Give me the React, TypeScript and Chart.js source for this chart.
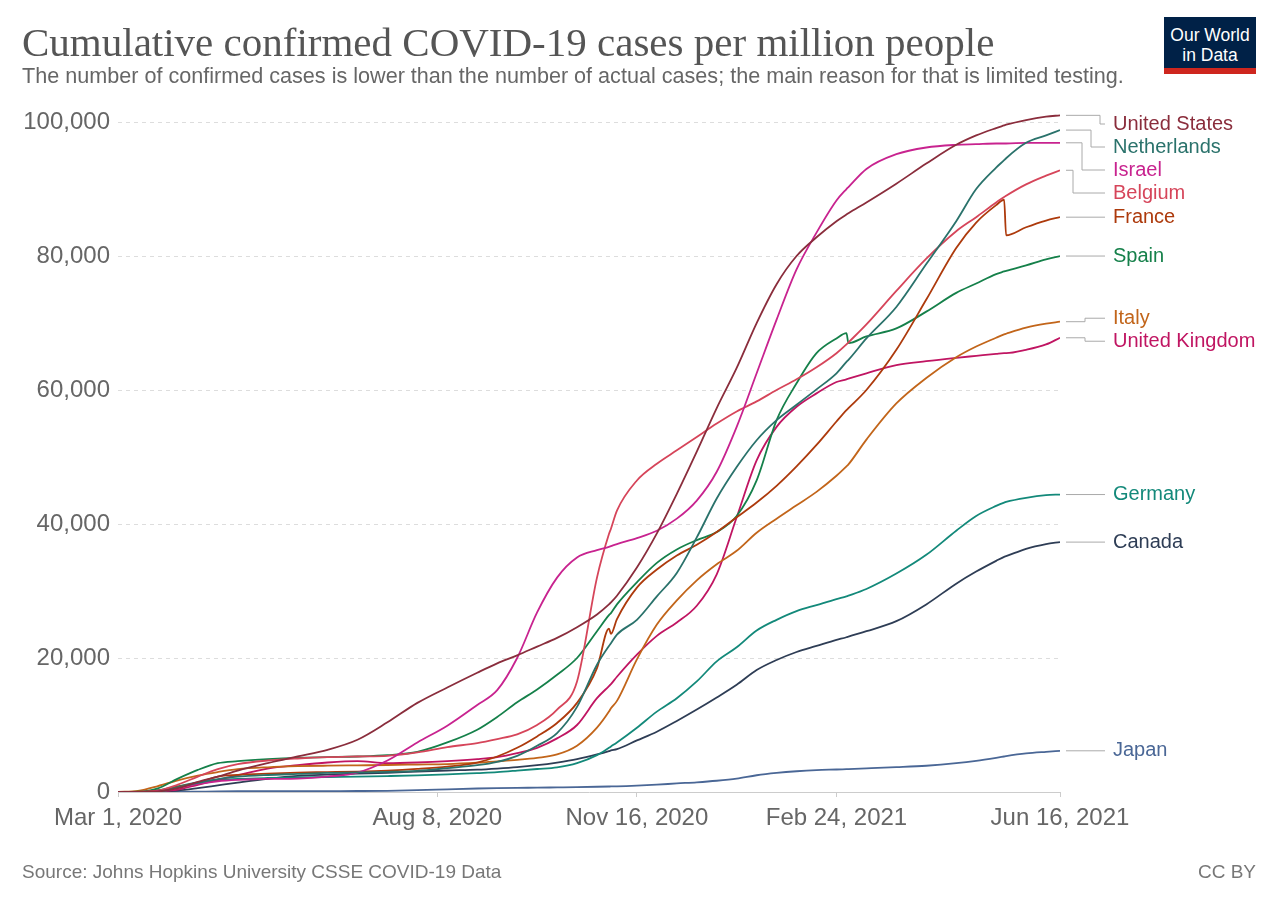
import React, { useEffect, useRef } from "react";
import { Chart, registerables } from "chart.js";

Chart.register(...registerables);

// Days since Mar 1, 2020
const DAYS = [
  0, 10, 20, 30, 40, 50, 60, 75,
  90, 105, 120, 135, 150, 165, 180, 190,
  200, 210, 220, 230, 240, 246, 247, 250,
  260, 270, 280, 290, 300, 310, 320, 330,
  340, 350, 360, 365, 366, 375, 390, 405,
  420, 430, 440, 444, 445, 455, 465, 472,
];

const X_TICK_DAYS = [0, 160, 260, 360, 472];
const X_TICK_LABELS = ["Mar 1, 2020", "Aug 8, 2020", "Nov 16, 2020", "Feb 24, 2021", "Jun 16, 2021"];
const Y_TICKS = [0, 20000, 40000, 60000, 80000, 100000];

const COUNTRIES = [
  "United States", "Netherlands", "Israel", "Belgium", "France", "Spain",
  "Italy", "United Kingdom", "Germany", "Canada", "Japan",
];
const COLORS = [
  "#8a2d3c", "#2a726b", "#c8238f", "#d6455a", "#ad3a0c", "#15804a",
  "#c2651a", "#c01562", "#13897a", "#2e3d55", "#4a6796",
];

// Confirmed cases per million, in thousands
const UNITED_STATES = [
  0, 0.003, 0.08, 0.57, 1.5, 2.3, 3.2, 4.3,
  5.3, 6.3, 7.8, 10.4, 13.3, 15.6, 17.8, 19.2,
  20.4, 21.7, 23.0, 24.6, 26.5, 28.0, 28.3, 29.3,
  33.5, 38.6, 44.5, 50.8, 57.3, 63.3, 70.0, 75.8,
  80.0, 82.8, 85.2, 86.2, 86.4, 88.0, 90.8, 93.8,
  96.6, 98.0, 99.1, 99.5, 99.6, 100.3, 100.8, 101.0,
];
const NETHERLANDS = [
  0, 0.002, 0.02, 0.73, 1.35, 1.93, 2.28, 2.54,
  2.7, 2.86, 2.92, 3.0, 3.15, 3.56, 4.0, 4.5,
  5.4, 6.9, 8.8, 12.7, 19.0, 21.8, 22.2, 23.5,
  25.7, 29.2, 32.7, 38.0, 43.8, 48.5, 52.5, 55.5,
  57.8, 60.1, 62.5, 64.2, 64.5, 67.7, 72.4, 78.8,
  85.2, 90.0, 93.2, 94.3, 94.6, 96.9, 98.0, 98.8,
];
const ISRAEL = [
  0, 0.01, 0.08, 0.6, 1.2, 1.6, 1.8, 1.95,
  2.0, 2.3, 2.9, 4.7, 7.4, 9.9, 13.0, 15.2,
  20.0, 26.8, 32.0, 35.0, 36.1, 36.6, 36.7, 37.0,
  37.9, 39.0, 40.8, 43.5, 47.8, 54.5, 62.5, 70.5,
  78.0, 83.5, 88.3, 90.0, 90.3, 93.0, 95.2, 96.2,
  96.6, 96.7, 96.8, 96.8, 96.8, 96.9, 96.9, 96.9,
];
const BELGIUM = [
  0, 0.03, 0.2, 1.1, 2.3, 3.4, 4.15, 4.7,
  5.0, 5.2, 5.3, 5.4, 5.9, 6.7, 7.3, 7.9,
  8.6, 10.0, 12.3, 16.5, 32.0, 38.5, 39.3, 42.0,
  46.5, 49.0, 51.0, 53.0, 55.0, 56.8, 58.3, 60.0,
  61.6, 63.4, 65.5, 66.8, 67.1, 69.8, 74.8, 79.6,
  83.7, 85.8, 88.0, 88.8, 89.0, 90.7, 92.0, 92.8,
];
const FRANCE = [
  0, 0.03, 0.2, 0.8, 1.4, 2.3, 2.55, 2.75,
  2.9, 2.97, 3.05, 3.2, 3.45, 3.8, 4.4, 5.3,
  6.6, 8.3, 10.3, 13.3, 18.5, 24.4, 23.6, 25.8,
  30.5, 33.2, 35.3, 36.9, 38.8, 41.0, 43.2, 45.7,
  48.6, 51.8, 55.3, 57.0, 57.3, 60.0, 66.0, 73.5,
  81.2, 85.0, 87.6, 88.4, 83.1, 84.3, 85.3, 85.8,
];
const SPAIN = [
  0, 0.05, 0.55, 2.0, 3.3, 4.3, 4.6, 4.9,
  5.1, 5.2, 5.3, 5.5, 6.0, 7.4, 9.3, 11.2,
  13.4, 15.3, 17.5, 20.0, 24.0, 26.4, 26.7, 28.0,
  31.3, 34.2, 36.2, 37.6, 38.8, 41.2, 46.5, 55.5,
  61.0, 65.5, 67.7, 68.5, 67.0, 68.0, 69.2, 71.7,
  74.5, 75.9, 77.3, 77.7, 77.8, 78.6, 79.5, 80.0,
];
const ITALY = [
  0, 0.17, 0.88, 1.75, 2.45, 2.98, 3.4, 3.69,
  3.85, 3.93, 3.98, 4.03, 4.1, 4.17, 4.38, 4.58,
  4.8, 5.1, 5.6, 6.9, 9.6, 12.0, 12.5, 13.6,
  19.8, 25.0, 28.6, 31.6, 34.0, 36.0, 38.7, 40.8,
  42.8, 44.8, 47.2, 48.6, 48.9, 52.6, 58.0, 61.8,
  64.9, 66.5, 67.8, 68.3, 68.4, 69.3, 69.9, 70.2,
];
const UNITED_KINGDOM = [
  0, 0.006, 0.08, 0.37, 1.08, 1.8, 2.5, 3.5,
  4.0, 4.4, 4.6, 4.3, 4.4, 4.6, 4.9, 5.2,
  5.8, 6.6, 8.0, 10.0, 14.0, 15.8, 16.1, 17.2,
  20.5, 23.3, 25.3, 27.8, 32.5, 41.0, 49.5, 54.5,
  57.5, 59.5, 61.2, 61.6, 61.7, 62.5, 63.7, 64.3,
  64.8, 65.1, 65.4, 65.5, 65.5, 66.0, 66.8, 67.8,
];
const GERMANY = [
  0, 0.02, 0.26, 0.85, 1.42, 1.76, 1.95, 2.09,
  2.17, 2.24, 2.3, 2.38, 2.48, 2.63, 2.83, 2.97,
  3.19, 3.43, 3.68, 4.3, 5.5, 6.6, 6.8, 7.4,
  9.6, 12.0, 14.0, 16.5, 19.5, 21.6, 24.1, 25.7,
  27.0, 27.9, 28.8, 29.2, 29.3, 30.3, 32.6, 35.4,
  39.0, 41.2, 42.7, 43.2, 43.3, 43.9, 44.3, 44.4,
];
const CANADA = [
  0, 0.003, 0.03, 0.22, 0.58, 0.99, 1.4, 1.97,
  2.4, 2.6, 2.74, 2.87, 3.06, 3.21, 3.33, 3.49,
  3.7, 4.0, 4.4, 4.9, 5.6, 6.1, 6.2, 6.4,
  7.7, 9.0, 10.6, 12.3, 14.1, 16.0, 18.2, 19.7,
  20.9, 21.8, 22.7, 23.1, 23.2, 24.0, 25.5, 28.0,
  31.1, 32.9, 34.5, 35.1, 35.2, 36.3, 37.0, 37.3,
];
const JAPAN = [
  0.002, 0.005, 0.008, 0.017, 0.05, 0.085, 0.112, 0.129,
  0.133, 0.138, 0.147, 0.176, 0.265, 0.395, 0.52, 0.58,
  0.62, 0.65, 0.69, 0.73, 0.78, 0.82, 0.83, 0.84,
  0.94, 1.09, 1.28, 1.45, 1.68, 2.0, 2.5, 2.85,
  3.1, 3.27, 3.36, 3.41, 3.42, 3.52, 3.7, 3.92,
  4.3, 4.65, 5.1, 5.3, 5.35, 5.75, 6.0, 6.15,
];

const SERIES = [
  UNITED_STATES, NETHERLANDS, ISRAEL, BELGIUM, FRANCE, SPAIN,
  ITALY, UNITED_KINGDOM, GERMANY, CANADA, JAPAN,
];

const SANS = '"Liberation Sans", Arial, Helvetica, sans-serif';

const endLabels = {
  id: "endLabels",
  afterDatasetsDraw(chart: any) {
    const { ctx, chartArea, scales } = chart;
    const ys = scales.y;
    const items = chart.data.datasets.map((ds: any) => {
      const last = ds.data[ds.data.length - 1].y;
      return { label: ds.label, color: ds.borderColor, target: ys.getPixelForValue(last), pos: 0 };
    });
    items.sort((a: any, b: any) => a.target - b.target);
    const GAP = 23;
    const minY = chartArea.top + 10;
    type Cl = { members: any[]; start: number };
    const layout = (c: Cl) => {
      const n = c.members.length;
      const mean = c.members.reduce((s: number, m: any) => s + m.target, 0) / n;
      c.start = Math.max(minY, mean - ((n - 1) * GAP) / 2);
    };
    let clusters: Cl[] = items.map((it: any) => ({ members: [it], start: it.target }));
    clusters.forEach(layout);
    let changed = true;
    while (changed) {
      changed = false;
      for (let k = 0; k < clusters.length - 1; k++) {
        const a = clusters[k];
        const b = clusters[k + 1];
        const aEnd = a.start + (a.members.length - 1) * GAP;
        if (b.start - aEnd < GAP - 0.01) {
          const merged: Cl = { members: a.members.concat(b.members), start: 0 };
          layout(merged);
          clusters.splice(k, 2, merged);
          changed = true;
          break;
        }
      }
    }
    const x0 = chartArea.right + 6;
    const x3 = chartArea.right + 45;
    ctx.save();
    ctx.font = `20px ${SANS}`;
    ctx.textBaseline = "middle";
    ctx.textAlign = "left";
    clusters.forEach((c) => {
      c.members.forEach((m: any, j: number) => (m.pos = c.start + j * GAP));
      const downs = c.members.filter((m: any) => m.pos > m.target + 0.5);
      const ups = c.members.filter((m: any) => m.pos < m.target - 0.5).reverse();
      const elbow = new Map<any, number>();
      [downs, ups].forEach((arr) => {
        arr.forEach((m: any, d: number) => {
          const n = arr.length;
          const ex = n === 1 ? x0 + 19 : x0 + 7 + ((n - 1 - d) / (n - 1)) * 27;
          elbow.set(m, ex);
        });
      });
      c.members.forEach((m: any) => {
        ctx.strokeStyle = "#aaaaaa";
        ctx.lineWidth = 1;
        ctx.beginPath();
        const ex = elbow.get(m);
        if (ex === undefined) {
          ctx.moveTo(x0, m.pos);
          ctx.lineTo(x3, m.pos);
        } else {
          ctx.moveTo(x0, m.target);
          ctx.lineTo(ex, m.target);
          ctx.lineTo(ex, m.pos);
          ctx.lineTo(x3, m.pos);
        }
        ctx.stroke();
        ctx.fillStyle = m.color;
        ctx.fillText(m.label, x3 + 8, m.pos);
      });
    });
    ctx.restore();
  },
};

export default function App() {
  const ref = useRef<HTMLCanvasElement>(null);
  useEffect(() => {
    document.body.style.margin = "0";
    const canvas = ref.current;
    if (!canvas) return;
    const chart = new Chart(canvas, {
      type: "line",
      data: {
        datasets: COUNTRIES.map((name, i) => ({
          label: name,
          data: DAYS.map((d, j) => ({ x: d, y: SERIES[i][j] * 1000 })),
          borderColor: COLORS[i],
          backgroundColor: COLORS[i],
          borderWidth: 1.8,
          pointRadius: 0,
          pointHoverRadius: 0,
          fill: false,
          cubicInterpolationMode: "monotone" as const,
        })),
      },
      options: {
        animation: false,
        responsive: false,
        maintainAspectRatio: false,
        layout: { padding: { top: 114, right: 220, bottom: 72, left: 0 } },
        plugins: { legend: { display: false }, tooltip: { enabled: false }, title: { display: false } },
        scales: {
          x: {
            type: "linear",
            min: 0,
            max: 472,
            afterBuildTicks: (s: any) => {
              s.ticks = X_TICK_DAYS.map((v) => ({ value: v }));
            },
            afterFit: (s: any) => {
              s.height = 40;
            },
            ticks: {
              autoSkip: false,
              maxRotation: 0,
              padding: 7,
              color: "#666666",
              font: { family: SANS, size: 24 },
              callback: (v: any) => {
                const i = X_TICK_DAYS.indexOf(Number(v));
                return i >= 0 ? X_TICK_LABELS[i] : "";
              },
            },
            grid: { drawOnChartArea: false, drawTicks: true, tickLength: 5, tickColor: "#cccccc" },
            border: { display: true, color: "#cccccc", width: 1 },
          },
          y: {
            type: "linear",
            min: 0,
            max: 101200,
            afterBuildTicks: (s: any) => {
              s.ticks = Y_TICKS.map((v) => ({ value: v }));
            },
            afterFit: (s: any) => {
              s.width = 118;
            },
            ticks: {
              padding: 8,
              color: "#666666",
              font: { family: SANS, size: 24 },
              callback: (v: any) => Number(v).toLocaleString("en-US"),
            },
            grid: {
              drawTicks: false,
              color: (c: any) => (c.tick && c.tick.value === 0 ? "rgba(0,0,0,0)" : "#dddddd"),
              lineWidth: 1,
            },
            border: { display: false, dash: [4, 4] },
          },
        },
      },
      plugins: [endLabels],
    });
    return () => chart.destroy();
  }, []);

  return (
    <div style={{ position: "relative", width: 1280, height: 904, background: "#fff", overflow: "hidden" }}>
      <canvas ref={ref} width={1280} height={904} style={{ position: "absolute", left: 0, top: 0, width: 1280, height: 904 }} />
      <div
        style={{
          position: "absolute", left: 22, top: 22, fontFamily: '"Liberation Serif", "Times New Roman", serif',
          fontSize: 41, lineHeight: "41px", color: "#555555", whiteSpace: "nowrap",
        }}
      >
        Cumulative confirmed COVID-19 cases per million people
      </div>
      <div
        style={{
          position: "absolute", left: 22, top: 65, fontFamily: SANS, fontSize: 21.6, lineHeight: "21.6px",
          color: "#666666", whiteSpace: "nowrap",
        }}
      >
        The number of confirmed cases is lower than the number of actual cases; the main reason for that is limited testing.
      </div>
      <div
        style={{
          position: "absolute", left: 1164, top: 17, width: 92, height: 57, background: "#002147",
          color: "#fff", fontFamily: SANS, fontSize: 17.5, lineHeight: "20px", textAlign: "center",
          boxSizing: "border-box", paddingTop: 8,
        }}
      >
        <div>Our World</div>
        <div>in Data</div>
        <div style={{ position: "absolute", left: 0, bottom: 0, width: 92, height: 6, background: "#ce261e" }} />
      </div>
      <div
        style={{
          position: "absolute", left: 22, top: 862, fontFamily: SANS, fontSize: 19, lineHeight: "19px",
          color: "#777777", whiteSpace: "nowrap",
        }}
      >
        Source: Johns Hopkins University CSSE COVID-19 Data
      </div>
      <div
        style={{
          position: "absolute", right: 24, top: 862, fontFamily: SANS, fontSize: 19, lineHeight: "19px",
          color: "#777777", whiteSpace: "nowrap",
        }}
      >
        CC BY
      </div>
    </div>
  );
}
